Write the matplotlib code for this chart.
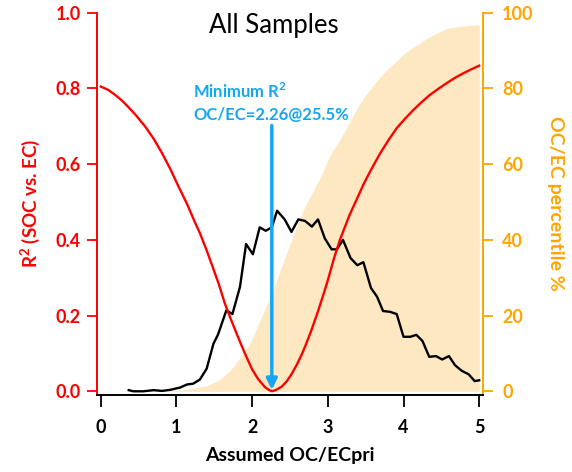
import matplotlib
matplotlib.use("Agg")
import matplotlib.pyplot as plt

plt.rcParams['font.family'] = ['Lato', 'DejaVu Sans']
plt.rcParams['mathtext.fontset'] = 'custom'
plt.rcParams['mathtext.rm'] = 'Lato'
plt.rcParams['mathtext.bf'] = 'Lato:bold'

# R^2 (SOC vs. EC) vs assumed OC/ECpri
r2_x = [0.00, 0.10, 0.19, 0.28, 0.36, 0.47, 0.585, 0.70, 0.81, 0.92, 1.03, 1.14, 1.25, 1.31,
        1.40, 1.48, 1.56, 1.64, 1.72, 1.80, 1.90, 2.00, 2.08, 2.17, 2.22, 2.26, 2.31, 2.39,
        2.46, 2.52, 2.59, 2.655, 2.72, 2.79, 2.86, 2.93, 3.00, 3.08, 3.16, 3.29, 3.38, 3.47,
        3.56, 3.69, 3.80, 3.91, 4.02, 4.13, 4.24, 4.35, 4.46, 4.57, 4.68, 4.79, 4.90, 5.00]
r2_y = [0.805, 0.796, 0.783, 0.768, 0.752, 0.728, 0.700, 0.667, 0.629, 0.587, 0.540, 0.495, 0.444, 0.418,
        0.372, 0.328, 0.283, 0.232, 0.190, 0.150, 0.102, 0.058, 0.032, 0.011, 0.004, 0.0, 0.003, 0.012,
        0.027, 0.045, 0.070, 0.097, 0.128, 0.165, 0.205, 0.248, 0.293, 0.350, 0.400, 0.467, 0.506, 0.546,
        0.581, 0.628, 0.663, 0.695, 0.720, 0.743, 0.764, 0.783, 0.799, 0.814, 0.828, 0.840, 0.851, 0.860]

# OC/EC frequency distribution (black)
freq_x = [0.37, 0.43, 0.56, 0.70, 0.81, 0.92, 1.05, 1.14, 1.22, 1.31, 1.40, 1.49, 1.55, 1.66, 1.74,
          1.84, 1.92, 2.01, 2.10, 2.18, 2.26, 2.33, 2.43, 2.52, 2.61, 2.70, 2.79, 2.87, 2.96, 3.05,
          3.12, 3.20, 3.30, 3.39, 3.47, 3.57, 3.65, 3.73, 3.82, 3.91, 4.00, 4.09, 4.17, 4.25, 4.34,
          4.43, 4.51, 4.60, 4.68, 4.77, 4.86, 4.94, 5.00]
freq_y = [0.003, 0.0, 0.0, 0.003, 0.001, 0.004, 0.010, 0.018, 0.020, 0.031, 0.060, 0.126, 0.150, 0.214, 0.204,
          0.276, 0.389, 0.362, 0.433, 0.424, 0.433, 0.477, 0.454, 0.421, 0.454, 0.450, 0.435, 0.454, 0.404, 0.375,
          0.375, 0.400, 0.352, 0.333, 0.341, 0.273, 0.250, 0.212, 0.210, 0.204, 0.144, 0.144, 0.149, 0.133, 0.091,
          0.093, 0.084, 0.093, 0.069, 0.054, 0.045, 0.027, 0.029]

# OC/EC cumulative percentile (shaded, right axis)
pct_x = [0.4, 0.8, 1.05, 1.2, 1.4, 1.55, 1.71, 1.85, 1.97, 2.1, 2.24, 2.32, 2.4, 2.47, 2.54, 2.61,
         2.68, 2.75, 2.81, 2.9, 2.97, 3.03, 3.1, 3.16, 3.23, 3.3, 3.38, 3.47, 3.58, 3.69, 3.8,
         3.91, 4.0, 4.1, 4.22, 4.3, 4.4, 4.48, 4.57, 4.68, 4.8, 4.9, 5.0]
pct_y = [0.0, 0.1, 0.3, 0.7, 1.5, 2.8, 5.5, 9.0, 12.6, 18.5, 25.0, 29.3, 33.5, 37.3, 41.0, 44.6,
         48.0, 50.8, 53.0, 56.5, 59.6, 62.4, 64.6, 66.5, 69.0, 71.5, 74.5, 77.4, 80.3, 83.0, 85.3,
         87.3, 89.0, 90.5, 92.0, 93.1, 94.2, 95.0, 95.8, 96.2, 96.5, 96.7, 96.8]

min_x = 2.26
min_pct = 25.5
xticks = [0, 1, 2, 3, 4, 5]
left_ticks = [0.0, 0.2, 0.4, 0.6, 0.8, 1.0]
right_ticks = [0, 20, 40, 60, 80, 100]

RED = '#FF0000'
ORANGE = '#FFA500'
BLUE = '#16A6F0'
FILL = '#FDE8C2'

fig = plt.figure(figsize=(5.72, 4.72), dpi=100)
ax = fig.add_axes([96.7/572, 1-394.7/472, (482.7-96.7)/572, (394.7-12.7)/472])
ax2 = ax.twinx()
ax.set_zorder(ax2.get_zorder() + 1)
ax.patch.set_visible(False)

ax2.fill_between(pct_x, 0, pct_y, color=FILL, lw=0)
ax2.set_ylim(-0.9, 100)
ax2.set_yticks(right_ticks)
ax2.set_yticklabels([str(t) for t in right_ticks])

ax.plot(freq_x, freq_y, color='black', lw=1.7, zorder=3)
ax.plot(r2_x, r2_y, color=RED, lw=1.7, zorder=4)
ax.set_xlim(-0.053, 5.046)
ax.set_ylim(-0.009, 1.0)
ax.set_xticks(xticks)
ax.set_xticklabels([str(t) for t in xticks])
ax.set_yticks(left_ticks)
ax.set_yticklabels(['%.1f' % t for t in left_ticks])

# spines
for a in (ax, ax2):
    a.spines['top'].set_visible(False)
ax.spines['right'].set_visible(False)
ax2.spines['left'].set_visible(False)
ax2.spines['bottom'].set_visible(False)
ax.spines['left'].set_color(RED)
ax.spines['left'].set_linewidth(1.4)
ax.spines['bottom'].set_color('black')
ax.spines['bottom'].set_linewidth(1.4)
ax2.spines['right'].set_color(ORANGE)
ax2.spines['right'].set_linewidth(1.4)

ax.tick_params(axis='x', direction='out', length=8.5, width=1.3, color='black', pad=9,
               labelsize=13, labelcolor='black')
ax.tick_params(axis='y', direction='out', length=7.5, width=1.3, color=RED, pad=4,
               labelsize=13, labelcolor=RED)
ax2.tick_params(axis='y', direction='out', length=7, width=1.3, color=ORANGE, pad=7,
                labelsize=13, labelcolor=ORANGE)
for lab in ax.get_xticklabels() + ax.get_yticklabels() + ax2.get_yticklabels():
    lab.set_fontweight('bold')

ax.set_xlabel('Assumed OC/ECpri', fontsize=14, fontweight='bold', labelpad=8)
ax.set_ylabel(r'R$^\mathbf{2}$ (SOC vs. EC)', fontsize=13.5, fontweight='bold', color=RED, labelpad=10)
ax2.set_ylabel('OC/EC percentile %', fontsize=14, fontweight='bold', color=ORANGE,
               rotation=270, labelpad=22)

ax.text(0.46, 0.998, 'All Samples', transform=ax.transAxes, ha='center', va='top', fontsize=18.5)

ax.annotate('', xy=(min_x, 0.004), xytext=(min_x, 0.702),
            arrowprops=dict(arrowstyle='-|>', color=BLUE, lw=2.5, mutation_scale=16,
                            shrinkA=0, shrinkB=0), zorder=6)
ax.text(1.22, 0.793, r'Minimum R$^{\mathbf{2}}$', color=BLUE, fontsize=12, fontweight='bold',
        ha='left', va='center', zorder=6)
ax.text(1.22, 0.731, 'OC/EC=%.2f@%.1f%%' % (min_x, min_pct), color=BLUE, fontsize=12,
        fontweight='bold', ha='left', va='center', zorder=6)

fig.savefig('out.png', dpi=100)
